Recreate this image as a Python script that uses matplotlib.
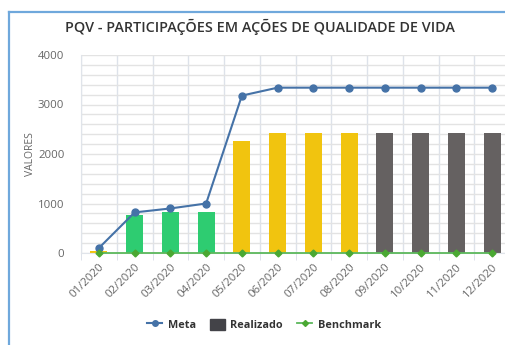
import matplotlib.pyplot as plt
import numpy as np
from matplotlib.lines import Line2D
from matplotlib.patches import Patch

meses = ['01/2020', '02/2020', '03/2020', '04/2020', '05/2020', '06/2020',
         '07/2020', '08/2020', '09/2020', '10/2020', '11/2020', '12/2020']
meta = [100, 820, 900, 1000, 3180, 3340, 3340, 3340, 3340, 3340, 3340, 3340]
realizado = [50, 770, 830, 830, 2270, 2420, 2420, 2420, 2420, 2420, 2420, 2420]
benchmark = [0] * 12
cores_barras = ['#f1c40f', '#2ecc71', '#2ecc71', '#2ecc71', '#f1c40f', '#f1c40f',
                '#f1c40f', '#f1c40f', '#656161', '#656161', '#656161', '#656161']

plt.rcParams['font.family'] = ['Open Sans', 'DejaVu Sans']

fig = plt.figure(figsize=(5.05, 3.45), dpi=100)
# moldura do cartao
fig.add_artist(Line2D([9/505, 9/505], [0, 1 - 12/345], color='#6fa8dc', lw=1.6))
fig.add_artist(Line2D([9/505, 1], [1 - 12/345, 1 - 12/345], color='#6fa8dc', lw=1.6))

ax = fig.add_axes([81/505, 1 - 253/345, 429/505, 198/345])
x = np.arange(len(meses))

ax.bar(x, realizado, width=0.48, color=cores_barras, zorder=2)
ax.plot(x, meta, color='#4572a7', lw=1.5, marker='o', ms=5, zorder=3)
ax.plot(x, benchmark, color='#5cb85c', lw=1.3, marker='D', ms=3.5,
        mfc='#4aa832', mec='#4aa832', zorder=4, clip_on=False)

ax.set_xlim(-0.5, 11.5)
ax.set_ylim(0, 4000)
ax.set_yticks([0, 1000, 2000, 3000, 4000])
ax.set_yticks(np.arange(0, 4001, 200), minor=True)
ax.set_xticks(x)
ax.set_xticklabels(meses, rotation=45, ha='right', rotation_mode='anchor',
                   fontsize=8.2, color='#666666')
ax.set_xticks(np.arange(-0.5, 12, 1), minor=True)
ax.tick_params(axis='x', which='major', length=0, pad=6)
ax.tick_params(axis='x', which='minor', length=5, color='#d8dde6')
ax.tick_params(axis='y', which='both', length=0, labelsize=8.2, labelcolor='#666666', pad=12)

ax.grid(True, axis='y', which='both', color='#e3e3e3', lw=1.0, zorder=0)
ax.grid(True, axis='x', which='minor', color='#dde2ea', lw=1.0, zorder=0)
ax.set_axisbelow(True)
for s in ['top', 'right']:
    ax.spines[s].set_visible(False)
ax.spines['left'].set_color('#e0e4ea')
ax.spines['bottom'].set_color('#e0e4ea')

ax.set_ylabel('VALORES', fontsize=7.5, color='#666666', labelpad=1)

fig.text(260/505, 1 - 27/345, 'PQV - PARTICIPAÇÕES EM AÇÕES DE QUALIDADE DE VIDA',
         ha='center', va='center', fontsize=10.4, color='#333333', fontweight='semibold')

handles = [
    Line2D([], [], color='#4572a7', lw=1.5, marker='o', ms=4),
    Patch(color='#434348'),
    Line2D([], [], color='#5cb85c', lw=1.3, marker='D', ms=3, mfc='#4aa832', mec='#4aa832'),
]
fig.legend(handles, ['Meta', 'Realizado', 'Benchmark'], loc='center',
           bbox_to_anchor=(264/505, 1 - 325/345), ncol=3, frameon=False,
           prop={'size': 7.8, 'weight': 'bold'}, labelcolor='#333333',
           handlelength=1.4, handleheight=1.2, columnspacing=1.3, handletextpad=0.5)

fig.savefig('out.png', dpi=100)
